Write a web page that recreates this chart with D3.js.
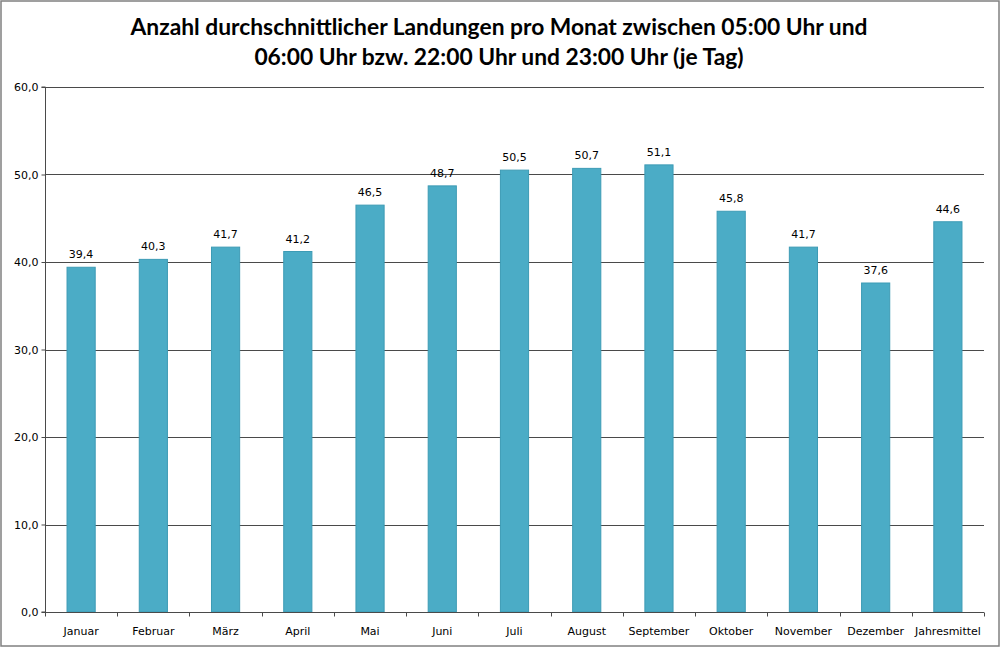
<!DOCTYPE html>
<html><head><meta charset="utf-8">
<script src="https://cdn.jsdelivr.net/npm/d3@7"></script>
<style>body{margin:0;background:#fff}svg{display:block}</style>
</head><body>
<script>
const categories = ["Januar","Februar","März","April","Mai","Juni","Juli","August","September","Oktober","November","Dezember","Jahresmittel"];
const values = [39.4,40.3,41.7,41.2,46.5,48.7,50.5,50.7,51.1,45.8,41.7,37.6,44.6];
const yTicks = [0,10,20,30,40,50,60];
const titleLines = ["Anzahl durchschnittlicher Landungen pro Monat zwischen 05:00 Uhr und","06:00 Uhr bzw. 22:00 Uhr und 23:00 Uhr (je Tag)"];

const W=1000,H=647;
const svg=d3.select("body").append("svg").attr("width",W).attr("height",H);
svg.append("rect").attr("x",1).attr("y",1).attr("width",W-2).attr("height",H-2).attr("fill","#fff").attr("stroke","#808080").attr("stroke-width",1.5);

const L=45,R=984,T=87,B=612;
const x=d3.scaleBand().domain(categories).range([L,R]).paddingInner(0.61).paddingOuter(0.305);
const y=d3.scaleLinear().domain([0,60]).range([B,T]);
const fmt=v=>d3.format(".1f")(v).replace(".",",");
const tf="DejaVu Sans, Verdana, sans-serif";

svg.append("g").selectAll("line").data(yTicks.filter(d=>d>0)).join("line")
  .attr("x1",L).attr("x2",R).attr("y1",d=>Math.round(y(d))+0.5).attr("y2",d=>Math.round(y(d))+0.5)
  .attr("stroke","#4a4a4a").attr("stroke-width",1);

svg.append("g").selectAll("rect").data(values).join("rect")
  .attr("x",(d,i)=>x(categories[i])).attr("width",x.bandwidth())
  .attr("y",d=>y(d)).attr("height",d=>B-y(d))
  .attr("fill","#4bacc6").attr("stroke","#3d9bb5").attr("stroke-width",1);

svg.append("g").selectAll("text").data(values).join("text")
  .attr("x",(d,i)=>x(categories[i])+x.bandwidth()/2).attr("y",d=>y(d)-9)
  .attr("text-anchor","middle").attr("font-family",tf).attr("font-size",11).attr("fill","#000")
  .text(d=>fmt(d));

const ya=svg.append("g").attr("transform",`translate(${L+0.5},0)`)
  .call(d3.axisLeft(y).tickValues(yTicks).tickSize(4).tickFormat(fmt));
ya.select(".domain").attr("stroke","#4a4a4a").attr("d",`M-4,${T}H0V${B}H-4`);
ya.selectAll(".tick line").attr("stroke","#4a4a4a");
ya.selectAll("text").attr("font-family",tf).attr("font-size",11).attr("fill","#000").attr("x",-7);

const xa=svg.append("g").attr("transform",`translate(0,${B+0.5})`);
xa.append("line").attr("x1",L).attr("x2",R).attr("stroke","#4a4a4a");
xa.selectAll(".tk").data(d3.range(categories.length+1)).join("line").attr("class","tk")
  .attr("x1",i=>Math.round(L+i*(R-L)/categories.length)+0.5).attr("x2",i=>Math.round(L+i*(R-L)/categories.length)+0.5)
  .attr("y1",0).attr("y2",4).attr("stroke","#4a4a4a");
xa.selectAll("text").data(categories).join("text")
  .attr("x",d=>x(d)+x.bandwidth()/2).attr("y",22)
  .attr("text-anchor","middle").attr("font-family",tf).attr("font-size",11).attr("fill","#000")
  .text(d=>d);

svg.append("g").selectAll("text").data(titleLines).join("text")
  .attr("x",499).attr("y",(d,i)=>35+i*30).attr("text-anchor","middle")
  .attr("font-family","Lato, sans-serif").attr("font-weight","bold").attr("font-size",22.8).attr("fill","#000")
  .text(d=>d);
</script>
</body></html>
